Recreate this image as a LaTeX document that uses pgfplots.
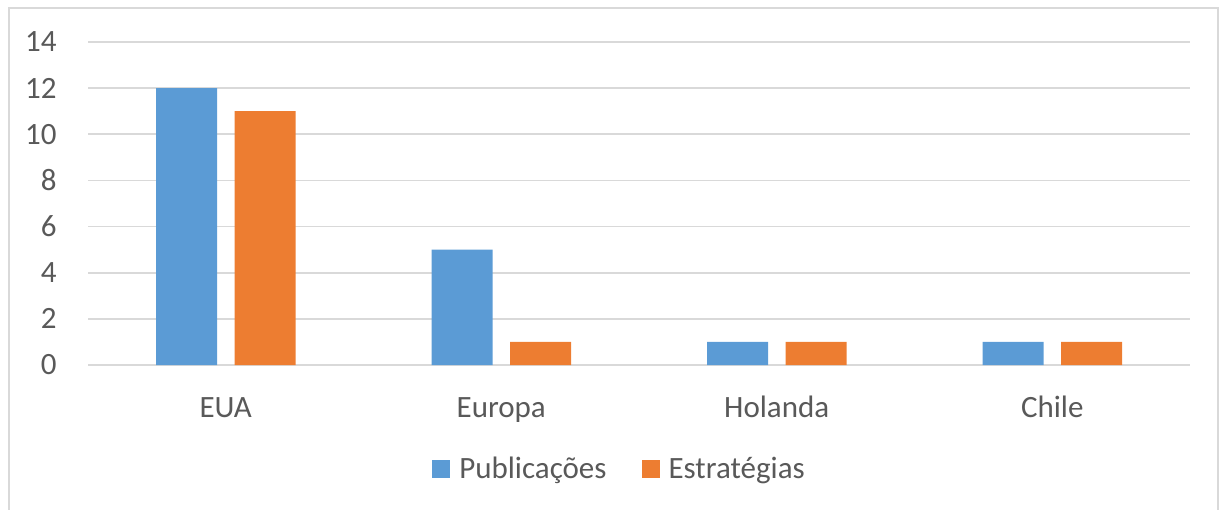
\documentclass[border=0pt]{standalone}
\usepackage{fontspec}
\setmainfont{Carlito}
\usepackage{pgfplots}
\pgfplotsset{compat=1.18}
\definecolor{cblue}{HTML}{5B9BD5}
\definecolor{corange}{HTML}{ED7D31}
\definecolor{ctext}{HTML}{595959}
\definecolor{cgrid}{HTML}{D9D9D9}
\begin{document}
\begin{tikzpicture}
\useasboundingbox (0,0) rectangle (610.5pt,254.5pt);
\draw[cgrid, line width=1pt] (4.25pt,-2pt) -- (4.25pt,250.25pt) -- (609pt,250.25pt) -- (609pt,-2pt);
\begin{axis}[
  at={(44pt,72pt)}, anchor=south west,
  scale only axis,
  width=551pt, height=161.5pt,
  xmin=-0.5, xmax=3.5, ymin=0, ymax=14,
  ybar, bar width=30.5pt,
  xtick={0,1,2,3},
  xticklabels={EUA,Europa,Holanda,Chile},
  ytick={0,2,4,6,8,10,12,14},
  axis line style={draw=none},
  major tick length=0pt,
  ymajorgrids, grid style={cgrid, line width=0.8pt},
  tick label style={font=\fontsize{15.5}{18}\selectfont, text=ctext},
  /pgf/number format/assume math mode=true,
  yticklabel style={inner sep=0pt, anchor=east, xshift=-15.5pt},
  xticklabel style={inner sep=0pt, anchor=base, yshift=-26pt},
  legend style={at={(0.4814,-0.322)}, anchor=center, draw=none, fill=none,
    font=\fontsize{15.5}{18}\selectfont, text=ctext,
    nodes={inner sep=0pt},
    legend columns=2,
    /tikz/every odd column/.style={column sep=4.5pt},
    /tikz/every even column/.style={column sep=17.5pt}},
  legend image code/.code={\fill[#1] (0pt,-4.5pt) rectangle (9pt,4.5pt);},
]
\addplot[fill=cblue, draw=none, bar shift=-19.625pt] coordinates {(0,12) (1,5) (2,1) (3,1)};
\addplot[fill=corange, draw=none, bar shift=19.625pt] coordinates {(0,11) (1,1) (2,1) (3,1)};
\legend{Publicações,Estratégias}
\end{axis}
\end{tikzpicture}
\end{document}
